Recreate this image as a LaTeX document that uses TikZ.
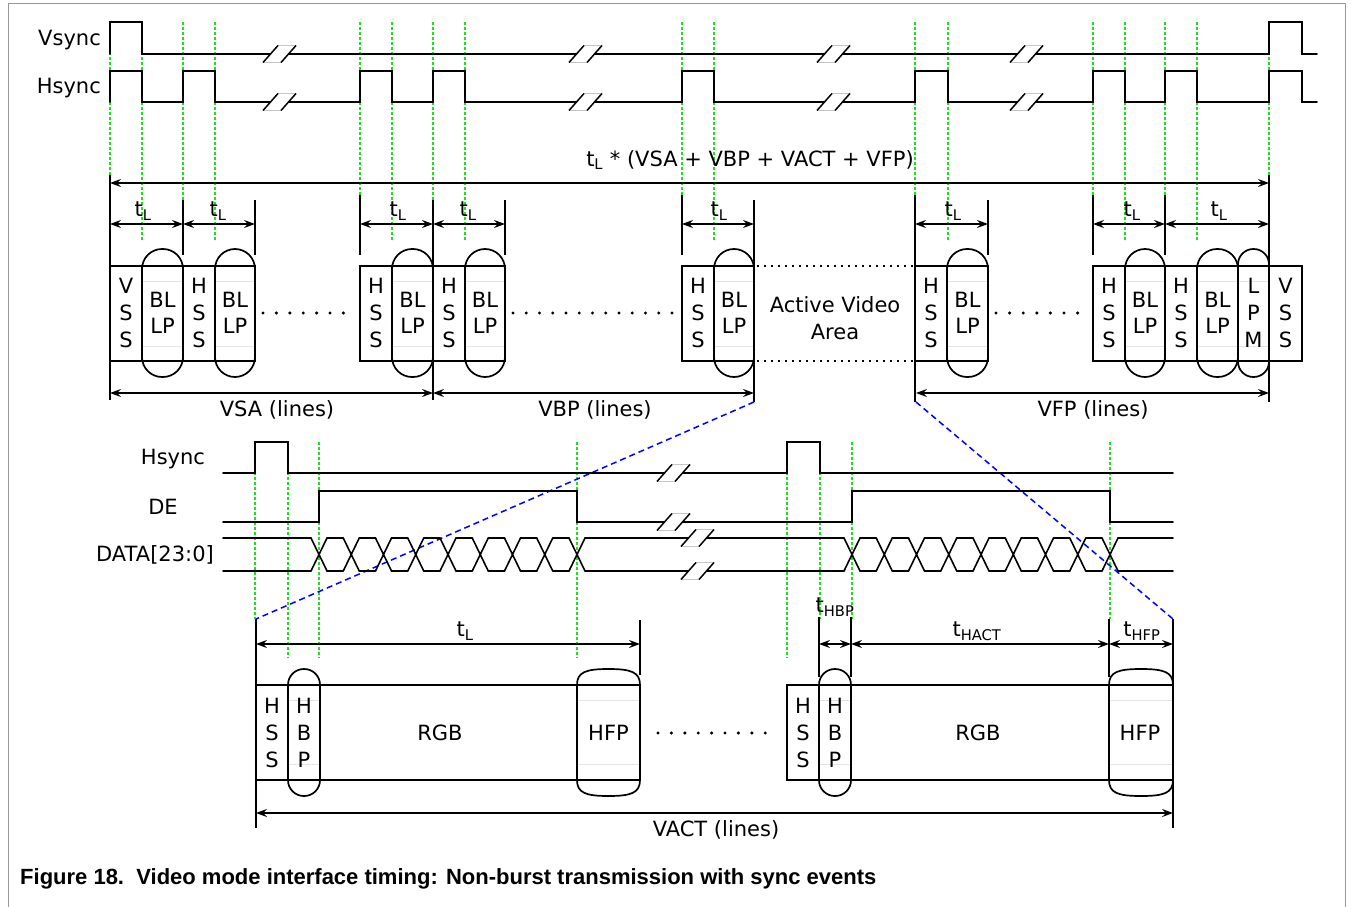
\documentclass[tikz,border=0pt]{standalone}
\usepackage{fontspec}
\setmainfont{DejaVu Sans}
\newfontfamily\capfont{Liberation Sans}
\usetikzlibrary{arrows.meta}
\definecolor{grn}{RGB}{30,225,30}
\definecolor{vblue}{RGB}{0,0,255}
\newcommand\mybreak[2]{%
  \fill[white] (#1-17,#2+8.5) -- (#1-2,#2-8.5) -- (#1+16,#2-8.5) -- (#1+1,#2+8.5) -- cycle;
  \draw[gray!45, line width=0.6pt] (#1-17,#2+8.5) -- (#1+1,#2+8.5) (#1-2,#2-8.5) -- (#1+16,#2-8.5);
  \draw[line width=1.5pt] (#1-17,#2+8.5) -- (#1-2,#2-8.5) (#1+1,#2+8.5) -- (#1+16,#2-8.5);
}
% pill: x1, x2, ytop, ybot, radius, faint line y1, faint line y2
\newcommand\mypill[7]{%
  \draw[gray!22, line width=0.6pt] (#1,#6) -- (#2,#6) (#1,#7) -- (#2,#7);
  \draw[pillst, rounded corners=#5pt] (#1,#3) rectangle (#2,#4);
}
% hfp shape: x1, x2
\newcommand\myhfp[2]{%
  \draw[gray!22, line width=0.6pt] (#1,700) -- (#2,700) (#1,764) -- (#2,764);
  \draw[pillst] (#1,685) .. controls (#1,672) and (#1+9,669) .. ({(#1+#2)/2},669)
     .. controls (#2-9,669) and (#2,672) .. (#2,685) -- (#2,780)
     .. controls (#2,793) and (#2-9,796) .. ({(#1+#2)/2},796)
     .. controls (#1+9,796) and (#1,793) .. (#1,780) -- cycle;
}
\begin{document}
\begin{tikzpicture}[x=1pt,y=-1pt,
  every node/.style={font=\fontsize{21}{27}\selectfont, inner sep=0pt},
  wave/.style={line width=1.6pt, line cap=round, line join=miter},
  boxst/.style={line width=1.3pt},
  pillst/.style={line width=1.7pt},
  gl/.style={draw=grn, line width=1.2pt, dash pattern=on 3pt off 2pt},
  tick/.style={line width=1.2pt},
  dim/.style={line width=1.1pt, {Stealth[length=11pt,width=8pt,inset=4pt]}-{Stealth[length=11pt,width=8pt,inset=4pt]}},
  bl/.style={draw=vblue, line width=1.5pt, dash pattern=on 6pt off 4pt},
  dotl/.style={line width=1.3pt, dash pattern=on 2pt off 5pt},
]
\useasboundingbox (0,0) rectangle (1352,907);
% frame
\draw[gray!80, line width=1pt] (8,907) -- (8,4) -- (1345,4) -- (1345,907);

% ---------------- green guide lines (top) ----------------
\foreach \x in {110,142,183,215,360,392,433,465,682,714,915,948,1093,1125,1165,1197,1269}
  \draw[gl] (\x,22) -- (\x,240);

% ---------------- top waveforms ----------------
\node[anchor=east] (lvs) at (101,40) {Vsync};
\node[anchor=east] (lhs) at (101,88) {Hsync};
\draw[wave] (110,54) -- (110,22) -- (142,22) -- (142,54) -- (1269,54) -- (1269,22) -- (1302,22) -- (1302,54) -- (1317,54);
\draw[wave] (110,102) -- (110,71) -- (142,71) -- (142,102)
  -- (183,102) -- (183,71) -- (215,71) -- (215,102)
  -- (360,102) -- (360,71) -- (392,71) -- (392,102)
  -- (433,102) -- (433,71) -- (465,71) -- (465,102)
  -- (682,102) -- (682,71) -- (714,71) -- (714,102)
  -- (915,102) -- (915,71) -- (948,71) -- (948,102)
  -- (1093,102) -- (1093,71) -- (1125,71) -- (1125,102)
  -- (1165,102) -- (1165,71) -- (1197,71) -- (1197,102)
  -- (1269,102) -- (1269,71) -- (1302,71) -- (1302,102) -- (1317,102);
\foreach \x in {280,586,834,1027} {\mybreak{\x}{54} \mybreak{\x}{102}}

% ---------------- top dimensions ----------------
\foreach \x/\a/\b in {110/175/400, 1269/175/402, 433/200/400, 754/200/402, 915/195/402,
   183/200/255, 255/200/255, 360/195/255, 505/200/255, 682/195/255, 988/200/255, 1093/195/255, 1165/195/255}
  \draw[tick] (\x,\a) -- (\x,\b);
\coordinate (A0) at (110,183); \coordinate (A1) at (1269,183);
\draw[dim] (A0) -- (A1);
\node (ltot) at (750,160) {t\textsubscript{L} * (VSA + VBP + VACT + VFP)};
\foreach \p/\q/\m in {110/183/143, 183/255/218, 360/433/398, 433/505/468, 682/754/719, 915/988/953, 1093/1165/1132, 1165/1269/1219} {
  \draw[dim] (\p,224) -- (\q,224);
  \node at (\m,211) {t\textsubscript{L}};
}

% ---------------- top boxes ----------------
\draw[boxst] (110,266) rectangle (255,361) (142,266) -- (142,361) (183,266) -- (183,361) (215,266) -- (215,361);
\draw[boxst] (360,266) rectangle (505,361) (392,266) -- (392,361) (433,266) -- (433,361) (465,266) -- (465,361);
\draw[boxst] (682,266) rectangle (754,361) (714,266) -- (714,361);
\draw[boxst] (915,266) rectangle (988,361) (947,266) -- (947,361);
\draw[boxst] (1093,266) rectangle (1302,361) (1125,266) -- (1125,361) (1165,266) -- (1165,361) (1197,266) -- (1197,361) (1238,266) -- (1238,361) (1269,266) -- (1269,361);
\foreach \p/\q in {142/183, 215/255, 392/433, 465/505, 714/754, 947/988, 1125/1165, 1197/1238}
  \mypill{\p}{\q}{249}{377}{20}{281}{346};
\mypill{1238}{1269}{249}{377}{15.3}{281}{346};
\foreach \x/\t in {126/V, 199/H, 376/H, 449/H, 698/H, 931/H, 1109/H, 1181/H, 1285.5/V}
  \node[align=center] at (\x,313) {\t\\S\\S};
\foreach \x in {162.5, 235, 412.5, 485, 734, 967.5, 1145, 1217.5}
  \node[align=center, font=\fontsize{21}{26.5}\selectfont] at (\x,313) {BL\\LP};
\node[align=center] (lpm) at (1253.5,313) {L\\P\\M};
\node[align=center, font=\fontsize{21}{27}\selectfont] (ava) at (835,318) {Active Video\\Area};
\draw[dotl] (757,266) -- (913,266);
\draw[dotl] (757,361) -- (913,361);
\foreach \i in {0,...,6} \fill (263+\i*13.4,313) circle[radius=1.7pt];
\foreach \i in {0,...,12} \fill (513+\i*13.25,313) circle[radius=1.7pt];
\foreach \i in {0,...,6} \fill (996+\i*13.6,313) circle[radius=1.7pt];

% bottom dims of top
\draw[dim] (110,393) -- (433,393);
\draw[dim] (433,393) -- (754,393);
\draw[dim] (916,393) -- (1269,393);
\node (lvsa) at (277,410) {VSA (lines)};
\node (lvbp) at (595,410) {VBP (lines)};
\node (lvfp) at (1093,410) {VFP (lines)};

% ---------------- bottom green lines ----------------
\foreach \x/\b in {255/619, 288/658, 319/658, 577/658, 787/658, 820/619, 852/619, 1110/619}
  \draw[gl] (\x,442) -- (\x,\b);

% blue zoom lines
\draw[bl] (754,402) -- (256,619);
\draw[bl] (916,402) -- (1173,619);

% ---------------- bottom waveforms ----------------
\node (lhs2) at (173,459) {Hsync};
\node (lde) at (163,507) {DE};
\node (ldat) at (155,555) {DATA[23:0]};
\draw[wave] (223,473) -- (255,473) -- (255,442) -- (288,442) -- (288,473) -- (787,473) -- (787,442) -- (820,442) -- (820,473) -- (1173,473);
\draw[wave] (223,522) -- (319,522) -- (319,491) -- (577,491) -- (577,522) -- (852,522) -- (852,491) -- (1110,491) -- (1110,522) -- (1173,522);
% data bus
\foreach \y in {538,571} {
  \draw[wave] (223,\y) -- (311,\y);
  \draw[wave] (585,\y) -- (844,\y);
  \draw[wave] (1118,\y) -- (1173,\y);
}
\foreach \s/\d in {319/32.25, 852/32.25} {
  \foreach \i in {0,...,8} {
    \pgfmathsetmacro\cx{\s+\i*\d}
    \draw[wave] (\cx-8,538) -- (\cx+8,571) (\cx-8,571) -- (\cx+8,538);
  }
  \foreach \i in {0,...,7} {
    \pgfmathsetmacro\ca{\s+\i*\d+8}
    \pgfmathsetmacro\cb{\s+(\i+1)*\d-8}
    \draw[wave] (\ca,538) -- (\cb,538) (\ca,571) -- (\cb,571);
  }
}
\mybreak{674}{473}
\mybreak{674}{522}
\mybreak{698}{538}
\mybreak{698}{571}

% ---------------- bottom dimensions ----------------
\foreach \x/\a/\b in {256/619/828, 1173/619/828, 640/620/675, 819/617/677, 851/617/677, 1109/619/677}
  \draw[tick] (\x,\a) -- (\x,\b);
\draw[dim] (256,644) -- (640,644);
\node (ltl) at (465,631) {t\textsubscript{L}};
\draw[dim] (819,644) -- (851,644);
\node (lhbp) at (835,607) {t\textsubscript{HBP}};
\draw[dim] (851,644) -- (1109,644);
\node (lhact) at (977,631) {t\textsubscript{HACT}};
\draw[dim] (1109,644) -- (1173,644);
\node (lhfp) at (1142,631) {t\textsubscript{HFP}};
\draw[dim] (256,813) -- (1173,813);
\node (lvact) at (716,830) {VACT (lines)};

% ---------------- bottom boxes ----------------
\draw[boxst] (256,685) rectangle (640,780) (288,685) -- (288,780) (320,685) -- (320,780) (577,685) -- (577,780);
\draw[boxst] (787,685) rectangle (1173,780) (819,685) -- (819,780) (851,685) -- (851,780) (1109,685) -- (1109,780);
\mypill{288}{320}{669}{796}{15.8}{700}{764}
\mypill{819}{851}{669}{796}{15.8}{700}{764}
\myhfp{577}{640}
\myhfp{1109}{1173}
\foreach \x in {272, 803} \node[align=center] at (\x,733) {H\\S\\S};
\foreach \x in {304, 835} \node[align=center] at (\x,733) {H\\B\\P};
\node (rgb1) at (440,733) {RGB};
\node (rgb2) at (978,733) {RGB};
\node (hfp1) at (608.5,733) {HFP};
\node (hfp2) at (1140,733) {HFP};
\foreach \i in {0,...,8} \fill (658+\i*13.4,733) circle[radius=1.7pt];

% caption
\node[anchor=west, font=\capfont\bfseries\fontsize{22}{26}\selectfont] (cap) at (20,879) {Figure 18.\ \ Video mode interface timing: Non-burst transmission with sync events};
\end{tikzpicture}
\end{document}
